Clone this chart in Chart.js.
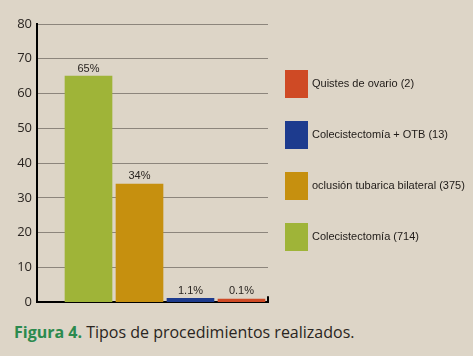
<!DOCTYPE html>
<html>
<head>
<meta charset="utf-8">
<script src="https://cdn.jsdelivr.net/npm/chart.js@4"></script>
<style>
  html, body { margin: 0; padding: 0; }
  body { width: 473px; height: 356px; background: #ddd5c7; position: relative; overflow: hidden; font-family: 'Open Sans', sans-serif; }
  #wrap { position: absolute; left: 0; top: 0; width: 473px; height: 315px; }
  #caption { position: absolute; left: 14px; top: 321px; font-size: 16px; color: #2a2521; white-space: nowrap; }
  #caption b { color: #2b8a4e; }
</style>
</head>
<body>
<div id="wrap"><canvas id="procChart"></canvas></div>
<div id="caption"><b>Figura 4.</b> Tipos de procedimientos realizados.</div>
<script>
// procedures, left to right on the chart
const procedures = ['Colecistectomía', 'oclusión tubarica bilateral', 'Colecistectomía + OTB', 'Quistes de ovario']
const counts = [714, 375, 13, 2]
const percents = [65, 34, 1.1, 0.1]
const barColors = ['#9fb438', '#c6900f', '#1d3b8e', '#cf4a25']
const yTicks = [0, 10, 20, 30, 40, 50, 60, 70, 80]

const barLabels = {
  id: 'barLabels',
  afterDatasetsDraw(chart) {
    const ctx = chart.ctx
    const meta = chart.getDatasetMeta(0)
    ctx.save()
    ctx.font = '11px "Liberation Sans", sans-serif'
    ctx.fillStyle = '#2a2521'
    ctx.textAlign = 'center'
    ctx.textBaseline = 'bottom'
    meta.data.forEach((bar, i) => {
      ctx.fillText(percents[i] + '%', bar.x, Math.min(bar.y, chart.chartArea.bottom - 4) - 2)
    })
    // little tick at the right end of the base line
    ctx.strokeStyle = '#000'
    ctx.lineWidth = 2
    ctx.beginPath()
    ctx.moveTo(chart.chartArea.right, chart.chartArea.bottom)
    ctx.lineTo(chart.chartArea.right, chart.chartArea.bottom - 6)
    ctx.stroke()
    ctx.restore()
  }
}

// legend on the right, last bar on top
const sideLegend = {
  id: 'sideLegend',
  afterDraw(chart) {
    const ctx = chart.ctx
    ctx.save()
    ctx.font = '11px "Liberation Sans", sans-serif'
    ctx.textBaseline = 'middle'
    ctx.textAlign = 'left'
    const order = procedures.map((p, i) => i).reverse()
    order.forEach((idx, row) => {
      const top = 70 + row * 51
      ctx.fillStyle = barColors[idx]
      ctx.fillRect(285, top, 23, 28)
      ctx.fillStyle = '#1f1b18'
      ctx.fillText(procedures[idx] + ' (' + counts[idx] + ')', 312, top + 14)
    })
    ctx.restore()
  }
}

const data = {
  datasets: [{
    label: 'Tipos de procedimientos',
    data: percents.map((v, i) => ({ x: i, y: v })),
    backgroundColor: barColors,
    borderWidth: 0,
    barThickness: 47,
    minBarLength: 3
  }]
}

const config = {
  type: 'bar',
  data: data,
  plugins: [barLabels, sideLegend],
  options: {
    responsive: true,
    maintainAspectRatio: false,
    animation: false,
    layout: { padding: { left: 0, top: 24, right: 205, bottom: 4 } },
    plugins: { legend: { display: false }, tooltip: { enabled: false } },
    scales: {
      x: {
        type: 'linear',
        offset: false,
        min: -1.01,
        max: 3.52,
        grid: { display: false },
        ticks: { display: false },
        border: { color: '#000', width: 2 },
        afterFit: (s) => { s.height = 0 }
      },
      y: {
        min: 0,
        max: 80,
        afterBuildTicks: (s) => { s.ticks = yTicks.map(v => ({ value: v })) },
        grid: { color: '#8c857c', lineWidth: 1, drawTicks: false },
        border: { color: '#000', width: 2 },
        ticks: { color: '#2a2521', padding: 5, font: { family: 'Open Sans', size: 13 } },
        afterFit: (s) => { s.width = 37 }
      }
    }
  }
}

const myChart = new Chart(document.getElementById('procChart'), config)
</script>
</body>
</html>
